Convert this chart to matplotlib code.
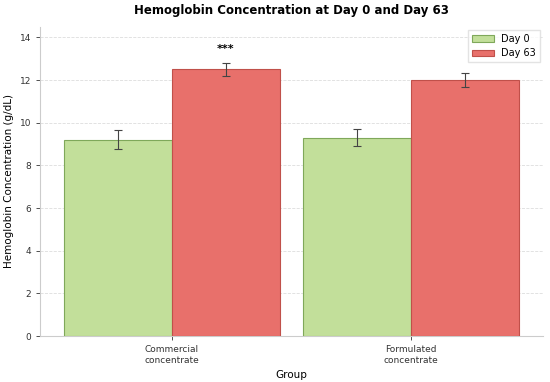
import matplotlib
matplotlib.use("Agg")
import matplotlib.pyplot as plt
import numpy as np

groups = ["Commercial\nconcentrate", "Formulated\nconcentrate"]
day0 = [9.2, 9.3]
day0_err = [0.45, 0.4]
day63 = [12.5, 12.0]
day63_err = [0.3, 0.33]
yticks = [0, 2, 4, 6, 8, 10, 12, 14]

fig, ax = plt.subplots(figsize=(5.5, 3.82), dpi=100)
fig.subplots_adjust(left=0.073, right=0.987, top=0.93, bottom=0.12)

x = np.arange(len(groups))
w = 0.45
ax.bar(x - w/2, day0, w, yerr=day0_err, color="#c2df9a", edgecolor="#7fa85a", linewidth=0.8,
       capsize=3, error_kw=dict(ecolor="#444444", elinewidth=0.8, capthick=0.8), label="Day 0", zorder=3)
ax.bar(x + w/2, day63, w, yerr=day63_err, color="#e8706b", edgecolor="#c0504a", linewidth=0.8,
       capsize=3, error_kw=dict(ecolor="#444444", elinewidth=0.8, capthick=0.8), label="Day 63", zorder=3)

ax.text(x[0] + w/2, day63[0] + day63_err[0] + 0.4, "***", ha="center", va="bottom", fontsize=8, fontweight="bold")

ax.set_xlim(-0.55, 1.55)
ax.set_ylim(0, 14.5)
ax.set_yticks(yticks)
ax.set_xticks(x)
ax.set_xticklabels(groups, fontsize=6.5, color="#333333")
ax.tick_params(axis="y", labelsize=6.5, colors="#333333", length=3, width=0.6)
ax.tick_params(axis="x", length=3, width=0.6, colors="#333333")
ax.set_xlabel("Group", fontsize=7.5)
ax.set_ylabel("Hemoglobin Concentration (g/dL)", fontsize=7.5)
ax.set_title("Hemoglobin Concentration at Day 0 and Day 63", fontsize=8.5, fontweight="bold", pad=9)
ax.yaxis.grid(True, linestyle="--", color="#dddddd", linewidth=0.6, zorder=0)
ax.set_axisbelow(True)
for s in ["top", "right"]:
    ax.spines[s].set_visible(False)
for s in ["left", "bottom"]:
    ax.spines[s].set_color("#cccccc")
    ax.spines[s].set_linewidth(0.8)
ax.legend(loc="upper right", fontsize=7, frameon=True, edgecolor="#dddddd", fancybox=False,
          handlelength=2.2, borderaxespad=0.3)

fig.savefig("out.png", dpi=100)
